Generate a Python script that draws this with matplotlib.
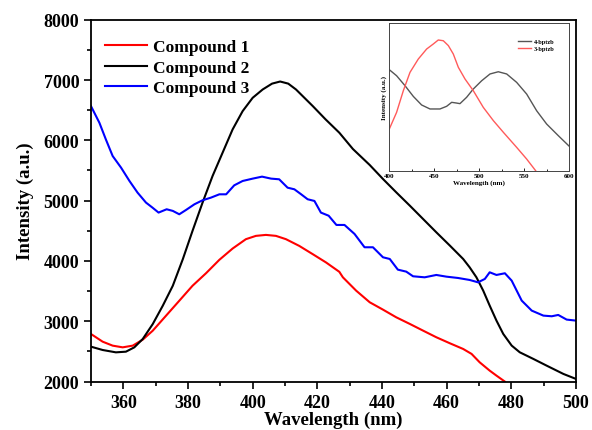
import matplotlib.pyplot as plt
from matplotlib.ticker import MultipleLocator

# dados (espectros de emissao)
wl_1 = [350, 353.6, 356.7, 359.8, 362.9, 366, 369.1, 373.2, 377.3, 381.4, 385.6, 389.7,
        393.8, 397.9, 401, 404.1, 407.2, 410.3, 414.4, 418.6, 422.7, 426.8, 427.9, 432,
        436.2, 440.3, 444.4, 448.6, 452.7, 456.8, 461, 465.1, 467.7, 470.2, 473.3, 475.4, 478]
int_1 = [2789, 2662, 2596, 2568, 2596, 2695, 2844, 3092, 3340, 3589, 3798, 4019,
         4206, 4361, 4416, 4432, 4416, 4361, 4250, 4112, 3975, 3820, 3729, 3508,
         3315, 3193, 3066, 2956, 2845, 2735, 2635, 2541, 2459, 2320, 2182, 2099, 2000]

wl_2 = [350, 353.6, 357.7, 360.8, 363.4, 366, 369.1, 372.2, 375.3, 378.4, 381.4, 384.5,
        387.6, 390.7, 393.8, 396.9, 400, 403.1, 406, 408.5, 411, 413.4, 418.6, 422.5,
        426.8, 431, 436.2, 440.3, 444.4, 448.6, 452.7, 456.8, 461, 465.1, 467.1, 469.2,
        471.3, 473.3, 475.4, 477.5, 480.1, 482.6, 486.8, 490.9, 496.1, 500]
int_2 = [2579, 2524, 2485, 2496, 2568, 2706, 2954, 3258, 3589, 4030, 4499, 4967,
         5409, 5795, 6181, 6484, 6705, 6843, 6940, 6975, 6940, 6843, 6567, 6350,
         6126, 5856, 5591, 5359, 5138, 4917, 4696, 4475, 4254, 4033, 3895, 3729,
         3508, 3260, 3011, 2790, 2597, 2486, 2376, 2265, 2127, 2044]

wl_3 = [350, 352.6, 354.6, 356.7, 359.3, 361.9, 364.4, 367, 369, 370.9, 373.4, 375.3,
        377.3, 379.4, 382, 384.5, 387.1, 389.7, 391.8, 394.3, 396.9, 400, 402.9, 405.7,
        408.2, 410.8, 412.9, 415, 417, 419.1, 421.1, 423.5, 425.9, 428.4, 431.5, 434.6,
        437.2, 440.3, 442.4, 444.9, 447.5, 449.6, 453.2, 456.8, 459.9, 463.5, 467.1,
        469.7, 471.8, 473.3, 475.4, 478, 480.1, 483.2, 486.3, 489.9, 492.5, 494.5,
        497.1, 500]
int_3 = [6567, 6291, 6015, 5740, 5547, 5326, 5133, 4968, 4885, 4802, 4857, 4830,
         4774, 4846, 4940, 5006, 5050, 5105, 5105, 5254, 5326, 5365, 5398, 5365,
         5354, 5215, 5188, 5105, 5023, 4995, 4802, 4750, 4597, 4597, 4448, 4227,
         4227, 4061, 4033, 3856, 3823, 3746, 3729, 3768, 3740, 3718, 3685,
         3646, 3702, 3812, 3768, 3796, 3674, 3343, 3177, 3094, 3083, 3105,
         3028, 3011]

# inset (ligantes)
wl_4b = [400, 408.1, 417.4, 426.7, 435.9, 445.2, 456.3, 463.7, 469.3, 474.8, 478.5, 485.9,
         493.3, 502.6, 511.9, 521.1, 530.4, 541.5, 552.6, 563.7, 574.8, 587.8, 600]
int_4b = [0.684, 0.643, 0.576, 0.503, 0.445, 0.418, 0.418, 0.436, 0.463, 0.458, 0.454, 0.497,
          0.553, 0.609, 0.655, 0.670, 0.655, 0.598, 0.519, 0.406, 0.316, 0.237, 0.165]
wl_3b = [400, 408.1, 415.6, 423, 432.2, 441.5, 448.9, 454.4, 460, 465.6, 471.1, 476.7,
         484.1, 493.3, 504.4, 515.6, 526.7, 541.5, 552.6, 562.6]
int_3b = [0.282, 0.395, 0.542, 0.666, 0.756, 0.824, 0.858, 0.885, 0.880, 0.847, 0.790, 0.700,
          0.621, 0.542, 0.429, 0.339, 0.260, 0.158, 0.079, 0.0]

plt.rcParams['font.family'] = ['Liberation Serif', 'DejaVu Serif']
plt.rcParams['font.weight'] = 'bold'

fig = plt.figure(figsize=(5.92, 4.31), dpi=100)
ax = fig.add_axes([0.1537, 0.1123, 0.8193, 0.8397])

ax.plot(wl_1, int_1, color='#ff0000', lw=1.5, label='Compound 1')
ax.plot(wl_2, int_2, color='black', lw=1.5, label='Compound 2')
ax.plot(wl_3, int_3, color='#0000ff', lw=1.5, label='Compound 3')

ax.set_xlim(350, 500)
ax.set_ylim(2000, 8000)
ax.xaxis.set_major_locator(MultipleLocator(20))
ax.xaxis.set_minor_locator(MultipleLocator(10))
ax.yaxis.set_major_locator(MultipleLocator(1000))
ax.yaxis.set_minor_locator(MultipleLocator(500))
ax.tick_params(which='major', direction='out', length=5, width=1.2, labelsize=13)
ax.tick_params(axis='x', which='major', pad=4)
ax.tick_params(which='minor', direction='out', length=3, width=1.2)
for s in ax.spines.values():
    s.set_linewidth(1.3)
ax.set_xlabel('Wavelength (nm)', fontsize=13.5, fontweight='bold', labelpad=0)
ax.set_ylabel('Intensity (a.u.)', fontsize=13.5, fontweight='bold', labelpad=7)

ax.legend(loc='upper left', frameon=False, fontsize=12.5, handlelength=2.4,
          handletextpad=0.4, labelspacing=0.25, borderaxespad=0.4,
          bbox_to_anchor=(0.0, 0.985))

# grafico interno
ins = fig.add_axes([0.6576, 0.6016, 0.3041, 0.3427])
ins.plot(wl_4b, int_4b, color='#555555', lw=1.0, label='4-bptzb')
ins.plot(wl_3b, int_3b, color='#ff5a5a', lw=1.0, label='3-bptzb')
ins.set_xlim(400, 600)
ins.set_ylim(0, 1)
ins.set_yticks([])
ins.xaxis.set_major_locator(MultipleLocator(50))
ins.xaxis.set_minor_locator(MultipleLocator(25))
ins.tick_params(which='major', direction='in', length=2, width=0.6, labelsize=5, pad=1.5)
ins.tick_params(which='minor', direction='in', length=1.2, width=0.6)
for s in ins.spines.values():
    s.set_linewidth(0.7)
    s.set_color('#444444')
ins.set_xlabel('Wavelength (nm)', fontsize=5, fontweight='bold', labelpad=1)
ins.set_ylabel('Intensity (a.u.)', fontsize=5, fontweight='bold', labelpad=2)
ins.legend(loc='upper right', frameon=False, fontsize=4.5, handlelength=2.2,
           handletextpad=0.4, labelspacing=0.2, bbox_to_anchor=(0.95, 0.93))

fig.savefig('out.png', dpi=100)
